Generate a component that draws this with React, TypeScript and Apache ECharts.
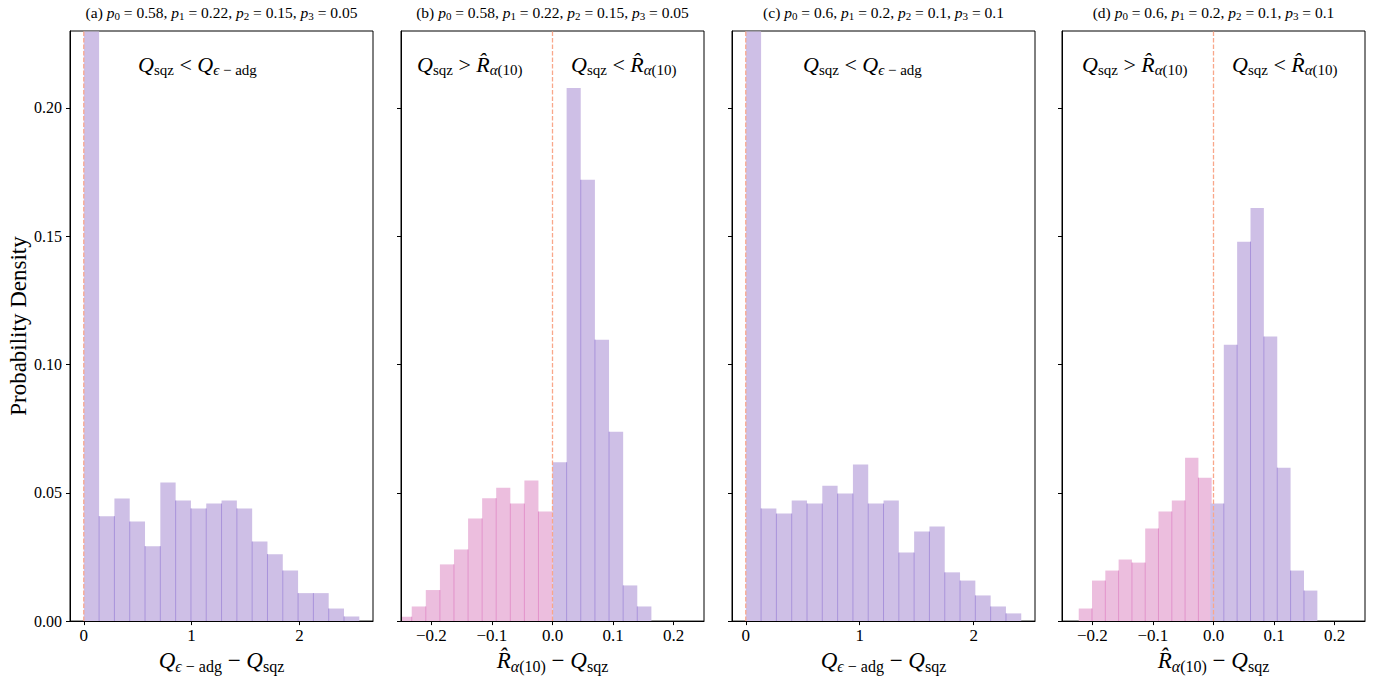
import React, { useEffect, useRef } from 'react';
import * as echarts from 'echarts';

const FONT = 'Liberation Serif';

// ---------- data ----------
const yTicks = [0, 0.05, 0.1, 0.15, 0.2];
const xTicksQ = [0, 1, 2];
const xTicksR = [-0.2, -0.1, 0, 0.1, 0.2];
const zeroLine = [[0, 0], [0, 0.23]];

const panelTitles = [
  ['(a) ', '0.58', '0.22', '0.15', '0.05'],
  ['(b) ', '0.58', '0.22', '0.15', '0.05'],
  ['(c) ', '0.6', '0.2', '0.1', '0.1'],
  ['(d) ', '0.6', '0.2', '0.1', '0.1'],
];

// (a) Q_eps-adg - Q_sqz
const aEdges = [0, 0.142, 0.284, 0.426, 0.568, 0.71, 0.852, 0.994, 1.136, 1.278, 1.42, 1.562, 1.704, 1.846, 1.988, 2.13, 2.272, 2.414, 2.556];
const aHeights = [0.456, 0.0409, 0.0478, 0.0388, 0.0292, 0.054, 0.047, 0.0439, 0.0458, 0.047, 0.0439, 0.031, 0.0261, 0.0197, 0.0109, 0.0109, 0.0049, 0.0018];

// (b) R_alpha(10) - Q_sqz
const bPinkEdges = [-0.2556, -0.2323, -0.2091, -0.1858, -0.1626, -0.1393, -0.1161, -0.0929, -0.0696, -0.0464, -0.0232, 0];
const bPinkHeights = [0.0017, 0.0057, 0.0121, 0.0221, 0.0279, 0.04, 0.0479, 0.052, 0.0458, 0.0548, 0.0427];
const bPurpleEdges = [0, 0.0233, 0.0466, 0.07, 0.0933, 0.1166, 0.1399, 0.1632];
const bPurpleHeights = [0.0619, 0.2078, 0.172, 0.1097, 0.0738, 0.0139, 0.0057];

// (c) Q_eps-adg - Q_sqz
const cEdges = [0, 0.1343, 0.2686, 0.4029, 0.5372, 0.6715, 0.8058, 0.9401, 1.0744, 1.2087, 1.343, 1.4773, 1.6116, 1.7459, 1.8802, 2.0145, 2.1488, 2.2831, 2.4174];
const cHeights = [0.413, 0.0439, 0.0419, 0.047, 0.0458, 0.0528, 0.0497, 0.061, 0.0458, 0.047, 0.0267, 0.0349, 0.0369, 0.019, 0.0158, 0.01, 0.0057, 0.003];

// (d) R_alpha(10) - Q_sqz
const dPinkEdges = [-0.2224, -0.2005, -0.1785, -0.1566, -0.1346, -0.1127, -0.0908, -0.0688, -0.0469, -0.0249, -0.003];
const dPinkHeights = [0.0049, 0.0158, 0.0197, 0.024, 0.0228, 0.0361, 0.0427, 0.047, 0.0637, 0.0559];
const dPurpleEdges = [-0.0051, 0.017, 0.039, 0.0611, 0.0831, 0.1052, 0.1272, 0.1493, 0.1714];
const dPurpleHeights = [0.0458, 0.1077, 0.1479, 0.161, 0.1109, 0.0598, 0.0197, 0.0119];

// ---------- style ----------
const PURPLE = '#CEBFE6';
const PURPLE_EDGE = '#A892DA';
const PINK = '#ECBEDE';
const PINK_EDGE = '#E291CA';
const VLINE = '#F9A78A';

const grids = [
  { left: 70, top: 31, width: 303, height: 591 },
  { left: 401, top: 31, width: 303, height: 591 },
  { left: 732, top: 31, width: 303, height: 591 },
  { left: 1062, top: 31, width: 303, height: 591 },
];
const xRanges = [
  [-0.128, 2.683],
  [-0.25, 0.25],
  [-0.121, 2.538],
  [-0.25, 0.25],
];

function mkRich(size: number) {
  const sub = Math.round(size * 0.7);
  const L = size + 4;
  const h = Math.round(0.46 * size + 4);
  return {
    i: { fontFamily: FONT, fontStyle: 'italic', fontSize: size, lineHeight: L, color: '#000' },
    n: { fontFamily: FONT, fontSize: size, lineHeight: L, color: '#000' },
    s: { fontFamily: FONT, fontSize: sub, lineHeight: h, verticalAlign: 'bottom', color: '#000' },
    si: { fontFamily: FONT, fontStyle: 'italic', fontSize: sub, lineHeight: h, verticalAlign: 'bottom', color: '#000' },
  };
}

const QEPS = '{i|Q}{si|ϵ}{s| − adg}';
const QSQZ = '{i|Q}{s|sqz}';
const RHAT = '{i|R̂}{si|α}{s|(10)}';

function toBins(edges: number[], heights: number[]) {
  return heights.map((h, i) => [edges[i], edges[i + 1], h, i > 0 ? Math.min(h, heights[i - 1]) : 0]);
}

function renderBin(fill: string, edge: string) {
  return (params: any, api: any) => {
    const x0 = api.value(0);
    const x1 = api.value(1);
    const h = api.value(2);
    const e = api.value(3);
    const bl = api.coord([x0, 0]);
    const tr = api.coord([x1, h]);
    const cs = params.coordSys;
    const clip = { x: cs.x, y: cs.y + 0.5, width: cs.width, height: cs.height - 0.5 };
    const rect = echarts.graphic.clipRectByRect(
      { x: bl[0], y: tr[1], width: tr[0] - bl[0], height: bl[1] - tr[1] },
      clip
    );
    const children: any[] = [];
    if (rect) children.push({ type: 'rect', shape: rect, style: { fill } });
    if (e > 0 && bl[0] >= cs.x) {
      const t = api.coord([x0, e]);
      children.push({
        type: 'line',
        shape: { x1: bl[0], y1: bl[1], x2: bl[0], y2: Math.max(t[1], cs.y) },
        style: { stroke: edge, lineWidth: 1 },
      });
    }
    return { type: 'group', children };
  };
}

function binSeries(gi: number, edges: number[], heights: number[], fill: string, edge: string) {
  return {
    type: 'custom',
    xAxisIndex: gi,
    yAxisIndex: gi,
    renderItem: renderBin(fill, edge),
    encode: { x: [0, 1], y: 2 },
    data: toBins(edges, heights),
    z: 2,
  };
}

function zeroSeries(gi: number) {
  return {
    type: 'line',
    xAxisIndex: gi,
    yAxisIndex: gi,
    data: zeroLine,
    symbol: 'none',
    silent: true,
    lineStyle: { color: VLINE, width: 1.3, type: [4.5, 2] },
    itemStyle: { color: VLINE },
    z: 6,
  };
}

const fmtR = (v: number) => (Math.abs(v) < 1e-9 ? '0.0' : (v < 0 ? '−' : '') + Math.abs(v).toFixed(1));
const fmtQ = (v: number) => String(Math.round(v));

export default function App() {
  const ref = useRef<HTMLDivElement>(null);
  useEffect(() => {
    if (!ref.current) return;
    const chart = echarts.init(ref.current, undefined, { renderer: 'svg' });
    const rich23 = mkRich(23);
    const rich22 = mkRich(22);
    const rich15 = mkRich(15.5);

    const xAxes = grids.map((g, i) => {
      const isQ = i === 0 || i === 2;
      const ticks = isQ ? xTicksQ : xTicksR;
      return {
        gridIndex: i,
        type: 'value',
        min: xRanges[i][0],
        max: xRanges[i][1],
        z: 5,
        axisLine: { show: true, onZero: false, lineStyle: { color: '#000', width: 1 } },
        axisTick: { show: true, length: 4, lineStyle: { color: '#000' }, customValues: ticks },
        axisLabel: {
          customValues: ticks,
          formatter: isQ ? fmtQ : fmtR,
          fontFamily: FONT,
          fontSize: 17,
          color: '#000',
          margin: 6,
        },
        splitLine: { show: false },
        name: isQ ? QEPS + '{n| − }' + QSQZ : RHAT + '{n| − }' + QSQZ,
        nameLocation: 'middle',
        nameGap: 23,
        nameTextStyle: { fontFamily: FONT, fontSize: 23, color: '#000', rich: rich23 },
      };
    });

    const yAxes = grids.map((g, i) => ({
      gridIndex: i,
      type: 'value',
      min: 0,
      max: 0.23,
      z: 5,
      axisLine: { show: true, onZero: false, lineStyle: { color: '#000', width: 1 } },
      axisTick: { show: true, length: 4, lineStyle: { color: '#000' }, customValues: yTicks },
      axisLabel: {
        show: i === 0,
        customValues: yTicks,
        formatter: (v: number) => v.toFixed(2),
        fontFamily: FONT,
        fontSize: 16,
        color: '#000',
        margin: 8,
      },
      splitLine: { show: false },
      name: i === 0 ? 'Probability Density' : '',
      nameLocation: 'middle',
      nameGap: 38,
      nameTextStyle: { fontFamily: FONT, fontSize: 23, color: '#000' },
    }));

    const series = [
      binSeries(0, aEdges, aHeights, PURPLE, PURPLE_EDGE),
      binSeries(1, bPinkEdges, bPinkHeights, PINK, PINK_EDGE),
      binSeries(1, bPurpleEdges, bPurpleHeights, PURPLE, PURPLE_EDGE),
      binSeries(2, cEdges, cHeights, PURPLE, PURPLE_EDGE),
      binSeries(3, dPinkEdges, dPinkHeights, PINK, PINK_EDGE),
      binSeries(3, dPurpleEdges, dPurpleHeights, PURPLE, PURPLE_EDGE),
      zeroSeries(0),
      zeroSeries(1),
      zeroSeries(2),
      zeroSeries(3),
    ];

    const titleText = (t: string[]) =>
      `{n|${t[0]}}{i|p}{s|0}{n| = ${t[1]}, }{i|p}{s|1}{n| = ${t[2]}, }{i|p}{s|2}{n| = ${t[3]}, }{i|p}{s|3}{n| = ${t[4]}}`;

    const txt = (x: number, y: number, text: string, rich: any, align: string) => ({
      type: 'text',
      x,
      y,
      z: 10,
      style: {
        text,
        rich,
        align,
        verticalAlign: 'middle',
        textAlign: align,
        textVerticalAlign: 'middle',
        fontFamily: FONT,
        fill: '#000',
      },
    });

    const graphics: any[] = [];
    grids.forEach((g, i) => {
      graphics.push(txt(g.left + g.width / 2, 12, titleText(panelTitles[i]), rich15, 'center'));
    });
    // annotations
    graphics.push(txt(138, 64, QSQZ + '{n| < }' + QEPS, rich22, 'left'));
    graphics.push(txt(417, 64, QSQZ + '{n| > }' + RHAT, rich22, 'left'));
    graphics.push(txt(571, 64, QSQZ + '{n| < }' + RHAT, rich22, 'left'));
    graphics.push(txt(803, 64, QSQZ + '{n| < }' + QEPS, rich22, 'left'));
    graphics.push(txt(1082, 64, QSQZ + '{n| > }' + RHAT, rich22, 'left'));
    graphics.push(txt(1232, 64, QSQZ + '{n| < }' + RHAT, rich22, 'left'));

    chart.setOption({
      animation: false,
      backgroundColor: '#fff',
      grid: grids.map((g) => ({ ...g, show: true, borderColor: '#000', borderWidth: 1, backgroundColor: 'transparent', containLabel: false })),
      xAxis: xAxes,
      yAxis: yAxes,
      series,
      graphic: graphics,
    });
    return () => chart.dispose();
  }, []);
  return <div ref={ref} style={{ position: 'absolute', left: 0, top: 0, width: 1379, height: 679 }} />;
}
